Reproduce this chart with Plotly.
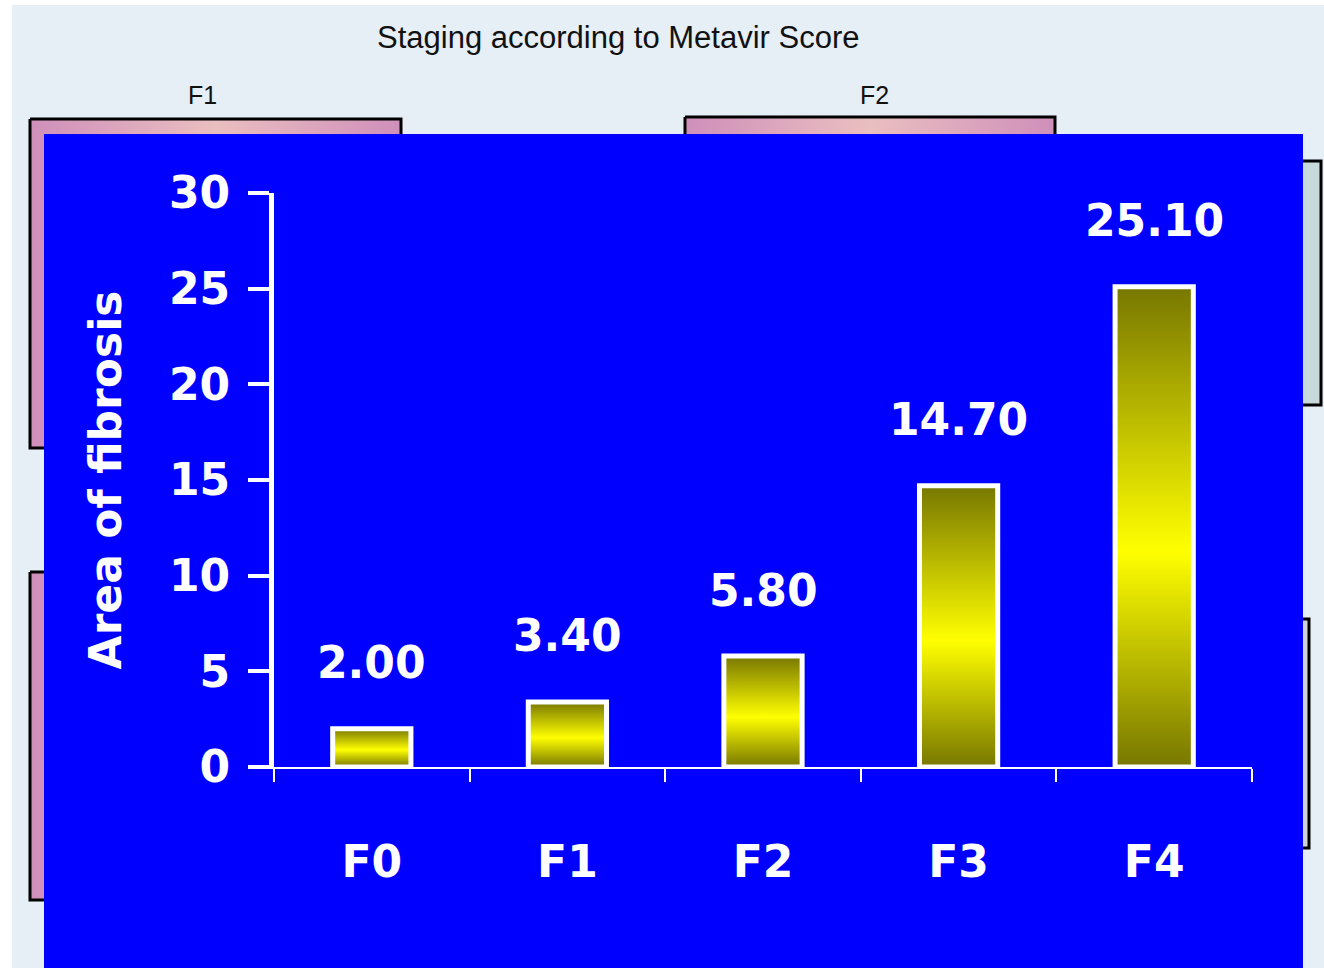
import plotly.graph_objects as go

# Area of fibrosis by Metavir stage
categories = ["F0", "F1", "F2", "F3", "F4"]
fibrosis_area = [2.00, 3.40, 5.80, 14.70, 25.10]
y_ticks = [0, 5, 10, 15, 20, 25, 30]

W, H = 1324, 971
BLUE = "#0000ff"
CHART_FONT = "Comic Sans MS, DejaVu Sans, sans-serif"
SLIDE_FONT = "Liberation Sans, Arial, sans-serif"

fig = go.Figure()


def box_trace(x0, x1, y0, y1, fill=None, gradient=None, line_color="black", line_width=3):
    """Rectangle drawn in the pixel-space background axes (x, y)."""
    kw = dict(
        x=[x0, x1, x1, x0, x0],
        y=[y0, y0, y1, y1, y0],
        mode="lines",
        fill="toself",
        line=dict(color=line_color, width=line_width),
        hoverinfo="skip",
        showlegend=False,
        xaxis="x",
        yaxis="y",
    )
    if gradient is not None:
        kw["fillgradient"] = gradient
    else:
        kw["fillcolor"] = fill
    return go.Scatter(**kw)


pink_grad = dict(
    type="horizontal",
    colorscale=[[0, "#cf8fba"], [0.5, "#eabfc0"], [1, "#cf8fba"]],
)

# slide backdrop: the staging panels behind the chart
fig.add_trace(box_trace(30, 401, 119, 448, gradient=pink_grad))
fig.add_trace(box_trace(685, 1055, 117, 450, gradient=pink_grad))
fig.add_trace(box_trace(30, 400, 572, 900, gradient=pink_grad))
fig.add_trace(box_trace(1290, 1321, 161, 405, fill="#c8d9db"))
fig.add_trace(box_trace(1290, 1309, 619, 848, fill="#cfd2d6"))

# blue chart panel
fig.add_trace(box_trace(44, 1303, 134, 968, fill=BLUE, line_color=BLUE, line_width=0))

# gradient bars with white outline
bar_w = 0.4
bar_grad = dict(
    type="vertical",
    colorscale=[[0, "#777700"], [0.45, "#ffff00"], [1, "#777700"]],
)
for i, v in enumerate(fibrosis_area):
    x0, x1 = i - bar_w / 2, i + bar_w / 2
    fig.add_trace(
        go.Scatter(
            x=[x0, x1, x1, x0, x0],
            y=[0, 0, v, v, 0],
            mode="lines",
            fill="toself",
            fillgradient=bar_grad,
            line=dict(color="white", width=5),
            name=categories[i],
            showlegend=False,
            xaxis="x2",
            yaxis="y2",
        )
    )
    fig.add_annotation(
        x=i,
        y=v,
        xref="x2",
        yref="y2",
        text=f"{v:.2f}",
        showarrow=False,
        yanchor="middle",
        yshift=66,
        font=dict(family=CHART_FONT, size=44, color="white", weight="bold"),
    )

# slide heading and panel labels
fig.add_annotation(
    x=618 / W, y=1 - 38 / H, xref="paper", yref="paper",
    xanchor="center", yanchor="middle",
    text="Staging according to Metavir Score", showarrow=False,
    font=dict(family=SLIDE_FONT, size=31, color="#111111"),
)
for lbl, px in [("F1", 202), ("F2", 874)]:
    fig.add_annotation(
        x=px / W, y=1 - 95 / H, xref="paper", yref="paper",
        xanchor="center", yanchor="middle",
        text=lbl, showarrow=False,
        font=dict(family=SLIDE_FONT, size=25, color="#111111"),
    )

fig.update_layout(
    width=W,
    height=H,
    margin=dict(l=0, r=0, t=0, b=0, pad=0, autoexpand=False),
    paper_bgcolor="white",
    plot_bgcolor="rgba(0,0,0,0)",
    shapes=[
        dict(type="rect", xref="paper", yref="paper",
             x0=12 / W, x1=1, y0=3 / H, y1=1 - 5 / H,
             fillcolor="#e6eef6", line=dict(width=0), layer="below"),
    ],
    xaxis=dict(range=[0, W], domain=[0, 1], visible=False, fixedrange=True, automargin=False),
    yaxis=dict(range=[H, 0], domain=[0, 1], visible=False, fixedrange=True, automargin=False),
    xaxis2=dict(
        domain=[274 / W, 1252 / W],
        anchor="y2",
        automargin=False,
        range=[-0.5, len(categories) - 0.5],
        tickmode="array",
        tickvals=list(range(len(categories))),
        ticktext=categories,
        ticks="",
        showline=True,
        linecolor="white",
        linewidth=2,
        showgrid=False,
        zeroline=False,
        ticklabelstandoff=55,
        tickfont=dict(family=CHART_FONT, size=44, color="white", weight="bold"),
        minor=dict(
            tickmode="array",
            tickvals=[k - 0.5 for k in range(len(categories) + 1)],
            ticks="outside",
            ticklen=13,
            tickwidth=2,
            tickcolor="white",
            showgrid=False,
        ),
    ),
    yaxis2=dict(
        domain=[1 - 767 / H, 1 - 193 / H],
        anchor="x2",
        automargin=False,
        range=[0, 30],
        tickmode="array",
        tickvals=y_ticks,
        ticks="outside",
        ticklen=21,
        tickwidth=4,
        tickcolor="white",
        showline=True,
        linecolor="white",
        linewidth=5,
        showgrid=False,
        zeroline=False,
        ticklabelstandoff=9,
        tickfont=dict(family=CHART_FONT, size=44, color="white", weight="bold"),
        title=dict(
            text="Area of fibrosis",
            standoff=35,
            font=dict(family=CHART_FONT, size=44, color="white", weight="bold"),
        ),
    ),
)

fig.write_html("out.html")
